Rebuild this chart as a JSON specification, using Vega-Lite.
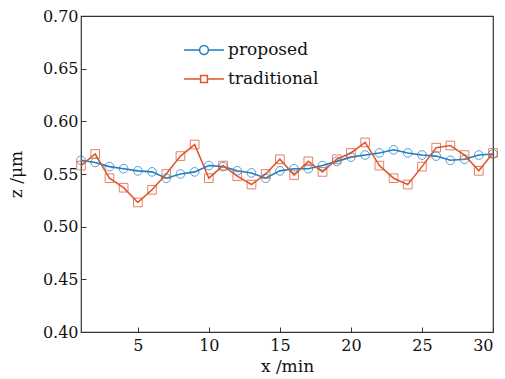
{
  "$schema": "https://vega.github.io/schema/vega-lite/v6.json",
  "width": 412,
  "height": 316,
  "autosize": "none",
  "padding": {"left": 81, "top": 16, "right": 12, "bottom": 47},
  "background": "white",
  "config": {
    "font": "DejaVu Serif",
    "view": {"stroke": "#333", "strokeWidth": 1.2},
    "axis": {"grid": false, "domain": false, "tickColor": "#333", "tickSize": -5, "labelFont": "DejaVu Serif", "titleFont": "DejaVu Serif", "labelFontSize": 16, "titleFontSize": 17, "labelColor": "#111", "titleColor": "#111", "titleFontWeight": "normal"}
  },
  "data": {
    "values": [
      {"x": 1, "z": 0.563, "method": "proposed"},
      {"x": 2, "z": 0.561, "method": "proposed"},
      {"x": 3, "z": 0.557, "method": "proposed"},
      {"x": 4, "z": 0.555, "method": "proposed"},
      {"x": 5, "z": 0.553, "method": "proposed"},
      {"x": 6, "z": 0.552, "method": "proposed"},
      {"x": 7, "z": 0.546, "method": "proposed"},
      {"x": 8, "z": 0.550, "method": "proposed"},
      {"x": 9, "z": 0.552, "method": "proposed"},
      {"x": 10, "z": 0.558, "method": "proposed"},
      {"x": 11, "z": 0.557, "method": "proposed"},
      {"x": 12, "z": 0.553, "method": "proposed"},
      {"x": 13, "z": 0.551, "method": "proposed"},
      {"x": 14, "z": 0.546, "method": "proposed"},
      {"x": 15, "z": 0.553, "method": "proposed"},
      {"x": 16, "z": 0.555, "method": "proposed"},
      {"x": 17, "z": 0.555, "method": "proposed"},
      {"x": 18, "z": 0.558, "method": "proposed"},
      {"x": 19, "z": 0.562, "method": "proposed"},
      {"x": 20, "z": 0.566, "method": "proposed"},
      {"x": 21, "z": 0.568, "method": "proposed"},
      {"x": 22, "z": 0.570, "method": "proposed"},
      {"x": 23, "z": 0.573, "method": "proposed"},
      {"x": 24, "z": 0.570, "method": "proposed"},
      {"x": 25, "z": 0.568, "method": "proposed"},
      {"x": 26, "z": 0.567, "method": "proposed"},
      {"x": 27, "z": 0.563, "method": "proposed"},
      {"x": 28, "z": 0.564, "method": "proposed"},
      {"x": 29, "z": 0.568, "method": "proposed"},
      {"x": 30, "z": 0.569, "method": "proposed"},
      {"x": 1, "z": 0.558, "method": "traditional"},
      {"x": 2, "z": 0.569, "method": "traditional"},
      {"x": 3, "z": 0.546, "method": "traditional"},
      {"x": 4, "z": 0.537, "method": "traditional"},
      {"x": 5, "z": 0.523, "method": "traditional"},
      {"x": 6, "z": 0.535, "method": "traditional"},
      {"x": 7, "z": 0.550, "method": "traditional"},
      {"x": 8, "z": 0.567, "method": "traditional"},
      {"x": 9, "z": 0.578, "method": "traditional"},
      {"x": 10, "z": 0.546, "method": "traditional"},
      {"x": 11, "z": 0.558, "method": "traditional"},
      {"x": 12, "z": 0.548, "method": "traditional"},
      {"x": 13, "z": 0.540, "method": "traditional"},
      {"x": 14, "z": 0.550, "method": "traditional"},
      {"x": 15, "z": 0.564, "method": "traditional"},
      {"x": 16, "z": 0.549, "method": "traditional"},
      {"x": 17, "z": 0.562, "method": "traditional"},
      {"x": 18, "z": 0.552, "method": "traditional"},
      {"x": 19, "z": 0.564, "method": "traditional"},
      {"x": 20, "z": 0.570, "method": "traditional"},
      {"x": 21, "z": 0.580, "method": "traditional"},
      {"x": 22, "z": 0.558, "method": "traditional"},
      {"x": 23, "z": 0.546, "method": "traditional"},
      {"x": 24, "z": 0.540, "method": "traditional"},
      {"x": 25, "z": 0.557, "method": "traditional"},
      {"x": 26, "z": 0.575, "method": "traditional"},
      {"x": 27, "z": 0.577, "method": "traditional"},
      {"x": 28, "z": 0.568, "method": "traditional"},
      {"x": 29, "z": 0.553, "method": "traditional"},
      {"x": 30, "z": 0.570, "method": "traditional"}
    ]
  },
  "encoding": {
    "x": {"field": "x", "type": "quantitative", "scale": {"domain": [1, 30], "nice": false, "zero": false}, "axis": {"values": [5, 10, 15, 20, 25, 30], "title": "x /min", "labelPadding": 10, "titlePadding": 5}},
    "y": {"field": "z", "type": "quantitative", "scale": {"domain": [0.4, 0.7], "nice": false, "zero": false}, "axis": {"values": [0.4, 0.45, 0.5, 0.55, 0.6, 0.65, 0.7], "format": ".2f", "title": "z /μm", "labelPadding": 8, "titlePadding": 17}},
    "color": {"field": "method", "type": "nominal", "scale": {"domain": ["proposed", "traditional"], "range": ["#1f7ec2", "#e0572b"]},
      "legend": {"orient": "none", "legendX": 102, "legendY": 13, "title": null, "labelFontSize": 17, "labelFont": "DejaVu Serif", "labelColor": "#111", "symbolSize": 1600, "rowPadding": -3, "labelOffset": 3, "symbolStrokeWidth": 1.5, "symbolFillColor": "transparent",
        "encode": {"symbols": {"update": {"shape": {"signal": "datum.value === 'proposed' ? 'M-1,0H-0.22M0.22,0H1M0.22,0A0.22,0.22 0 1,1 -0.22,0A0.22,0.22 0 1,1 0.22,0' : 'M-1,0H-0.17M0.17,0H1M-0.17,-0.17H0.17V0.17H-0.17Z'"}, "fill": {"value": "transparent"}}}}}}
  },
  "layer": [
    {"mark": {"type": "line", "strokeWidth": 1.6}},
    {"mark": {"type": "point", "filled": false, "strokeWidth": 1, "opacity": 0.75, "size": 75},
      "encoding": {"shape": {"condition": {"test": "datum.method === 'proposed'", "value": "circle"}, "value": "square"}}}
  ]
}
